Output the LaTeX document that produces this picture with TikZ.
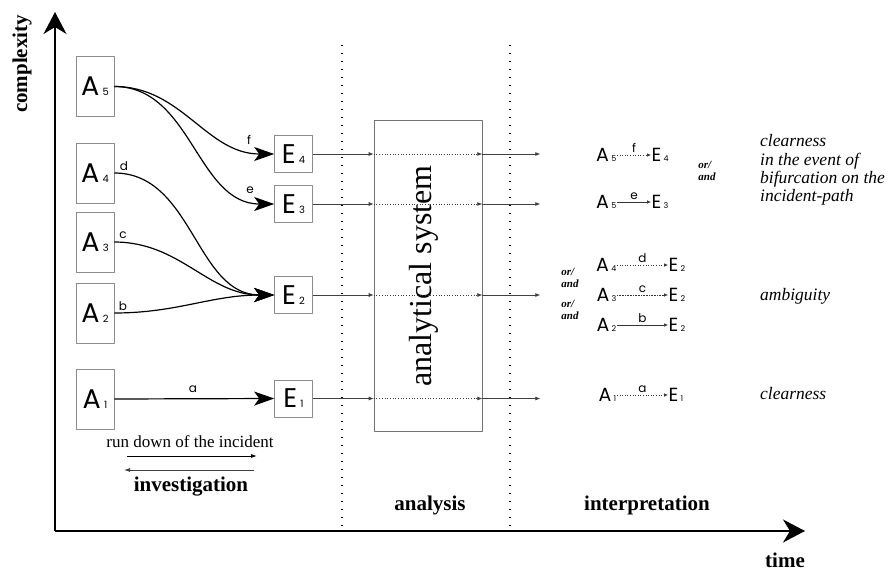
\documentclass[tikz,border=0pt]{standalone}
\usepackage{fontspec}
\setmainfont{Liberation Serif}
\newfontfamily\labfont{Poppins}
\usetikzlibrary{arrows.meta,positioning,calc}

\newcommand{\fsz}[2]{\fontsize{#1}{#2}\selectfont}
% letter with a small index set on the baseline
\newcommand{\ix}[3]{#1\kern0.12em{\fontsize{#3}{#3}\selectfont #2}}

\begin{document}
\begin{tikzpicture}[x=1pt,y=-1pt,line join=round]
    % `abox' and `ebox' are the cause and event boxes.
    % `conn' is used for the curved links, `pass' for the thin flow lines.
    \tikzstyle{box} = [draw=black!45,line width=0.6pt,minimum width=38pt,inner sep=0pt,font=\labfont\fsz{27}{27}]
    \tikzstyle{abox} = [box,minimum height=60pt]
    \tikzstyle{ebox} = [box,minimum height=37pt]
    \tikzstyle{conn} = [line width=1.2pt,-{Stealth[length=20pt,width=14pt,inset=5pt]}]
    \tikzstyle{pass} = [draw=black!75,line width=0.7pt,-{Latex[length=5pt,width=4pt]}]
    \tikzstyle{axis} = [line width=1.2pt,-{Stealth[length=22pt,width=23pt,inset=7pt]}]
    \tikzstyle{sep} = [line width=1.4pt,dash pattern=on 1.2pt off 6.8pt]
    \tikzstyle{lbl} = [font=\labfont\fsz{12}{12},inner sep=1pt]
    \tikzstyle{mini} = [font=\labfont\fsz{19}{19},inner sep=0.5pt]
    \tikzstyle{minarr} = [draw=black!80,line width=0.6pt,-{Latex[length=4pt,width=3.5pt]}]
    \tikzstyle{head} = [font=\bfseries\fsz{21}{21}]
    \tikzstyle{note} = [font=\itshape\fsz{17.5}{18.3},align=left,anchor=west,inner sep=0pt]
    \tikzstyle{andor} = [font=\bfseries\itshape\fsz{11}{12.5},align=left,inner sep=0pt]
    %
    \useasboundingbox (0,0) rectangle (895,571);
    % axes
    \coordinate (origin) at (55,531);
    \coordinate (ytip) at (55,12);
    \coordinate (xtip) at (805,531);
    \draw[axis] (origin) -- (ytip);
    \draw[axis] (origin) -- (xtip);
    \node[head,rotate=90] (complexity) at (22,64) {complexity};
    \node[head] (time) at (785,560) {time};

    % phase borders
    \coordinate (sepA) at (342,45);
    \coordinate (sepB) at (510,45);
    \draw[sep] (sepA) -- (sepA |- origin);
    \draw[sep] (sepB) -- (sepB |- origin);

    % causes and events
    \node[abox] (A5) at (95,86.5) {\ix{A}{5}{10}};
    \node[abox] (A4) at (95,173) {\ix{A}{4}{10}};
    \node[abox] (A3) at (95,242) {\ix{A}{3}{10}};
    \node[abox] (A2) at (95,313) {\ix{A}{2}{10}};
    \node[abox] (A1) at (95,399) {\ix{A}{1}{10}};
    \node[ebox] (E4) at (293.5,154) {\ix{E}{4}{10}};
    \node[ebox] (E3) at (293.5,204) {\ix{E}{3}{10}};
    \node[ebox] (E2) at (293.5,295) {\ix{E}{2}{10}};
    \node[ebox] (E1) at (293.5,398.5) {\ix{E}{1}{10}};

    \draw[conn] (A5.east) to[out=0,in=180] (E4.west);
    \draw[conn] (A5.east) to[out=0,in=180] (E3.west);
    \draw[conn] (A4.east) to[out=0,in=180] (E2.west);
    \draw[conn] (A3.east) to[out=0,in=180] (E2.west);
    \draw[conn] (A2.east) to[out=0,in=180] (E2.west);
    \draw[conn] (A1.east) -- (E1.west);
    \node[lbl] (lf) at (249,140) {f};
    \node[lbl] (le) at (250,190) {e};
    \node[lbl] (ld) at (124,166) {d};
    \node[lbl] (lc) at (123,235) {c};
    \node[lbl] (lb) at (123,306) {b};
    \node[lbl] (la) at (193,389) {a};

    % analytical system
    \node[draw=black!55,line width=0.6pt,minimum width=108pt,minimum height=311pt,inner sep=0pt] (sys) at (428,275.5) {};
    \node[rotate=90,font=\fsz{32}{32}] (systext) at (424,276) {analytical system};
    \foreach \e in {E1,E2,E3,E4} {
      \draw[pass] (\e.east) -- (sys.west |- \e.east);
      \draw[pass,dotted] (sys.west |- \e.east) -- (sys.east |- \e.east);
      \draw[pass] (sys.east |- \e.east) -- ($(sys.east |- \e.east)+(58,0)$) coordinate (out\e);
    }

    % interpretation
    \node[mini,anchor=east] (m5a) at (617,155) {\ix{A}{5}{8}};
    \node[mini,anchor=west] (m5b) at (651,155) {\ix{E}{4}{8}};
    \draw[minarr,dotted] (m5a.east) -- node[lbl,above=1pt] {f} (m5b.west);
    \node[mini,anchor=east] (m6a) at (617,202) {\ix{A}{5}{8}};
    \node[mini,anchor=west] (m6b) at (651,202) {\ix{E}{3}{8}};
    \draw[minarr] (m6a.east) -- node[lbl,above=1pt] {e} (m6b.west);
    \node[andor] (ao1) at (707,171) {or/\\and};

    \node[mini,anchor=east] (m4a) at (617,265) {\ix{A}{4}{8}};
    \node[mini,anchor=west] (m4b) at (668,265) {\ix{E}{2}{8}};
    \draw[minarr,dotted] (m4a.east) -- node[lbl,above=1pt] {d} (m4b.west);
    \node[mini,anchor=east] (m3a) at (617,295) {\ix{A}{3}{8}};
    \node[mini,anchor=west] (m3b) at (668,295) {\ix{E}{2}{8}};
    \draw[minarr,densely dotted] (m3a.east) -- node[lbl,above=1pt] {c} (m3b.west);
    \node[mini,anchor=east] (m2a) at (617,325) {\ix{A}{2}{8}};
    \node[mini,anchor=west] (m2b) at (668,325) {\ix{E}{2}{8}};
    \draw[minarr] (m2a.east) -- node[lbl,above=1pt] {b} (m2b.west);
    \node[andor] (ao2) at (570,278) {or/\\and};
    \node[andor] (ao3) at (570,310) {or/\\and};

    \node[mini,anchor=east] (m1a) at (617,395) {\ix{A}{1}{8}};
    \node[mini,anchor=west] (m1b) at (668,395) {\ix{E}{1}{8}};
    \draw[minarr,dotted] (m1a.east) -- node[lbl,above=1pt] {a} (m1b.west);

    \node[note] (n1) at (760,170) {clearness\\in the event of\\bifurcation on the\\incident-path};
    \node[note] (n2) at (760,296) {ambiguity};
    \node[note] (n3) at (760,394) {clearness};

    % phase names
    \node[font=\fsz{17}{17}] (rundown) at (190,442) {run down of the incident};
    \coordinate (rd1) at (127,456);
    \coordinate (rd2) at (257,456);
    \draw[line width=0.9pt,-{Latex[length=6pt,width=4pt]}] (rd1) -- (rd2);
    \coordinate (iv1) at (254,470);
    \coordinate (iv2) at (124,470);
    \draw[draw=black!75,line width=0.8pt,-{Latex[length=6pt,width=4pt]}] (iv1) -- (iv2);
    \node[head] (invest) at (191,487) {investigation};
    \node[head] (analysis) at (430,505) {analysis};
    \node[head] (interp) at (647,505) {interpretation};
\end{tikzpicture}
\end{document}
